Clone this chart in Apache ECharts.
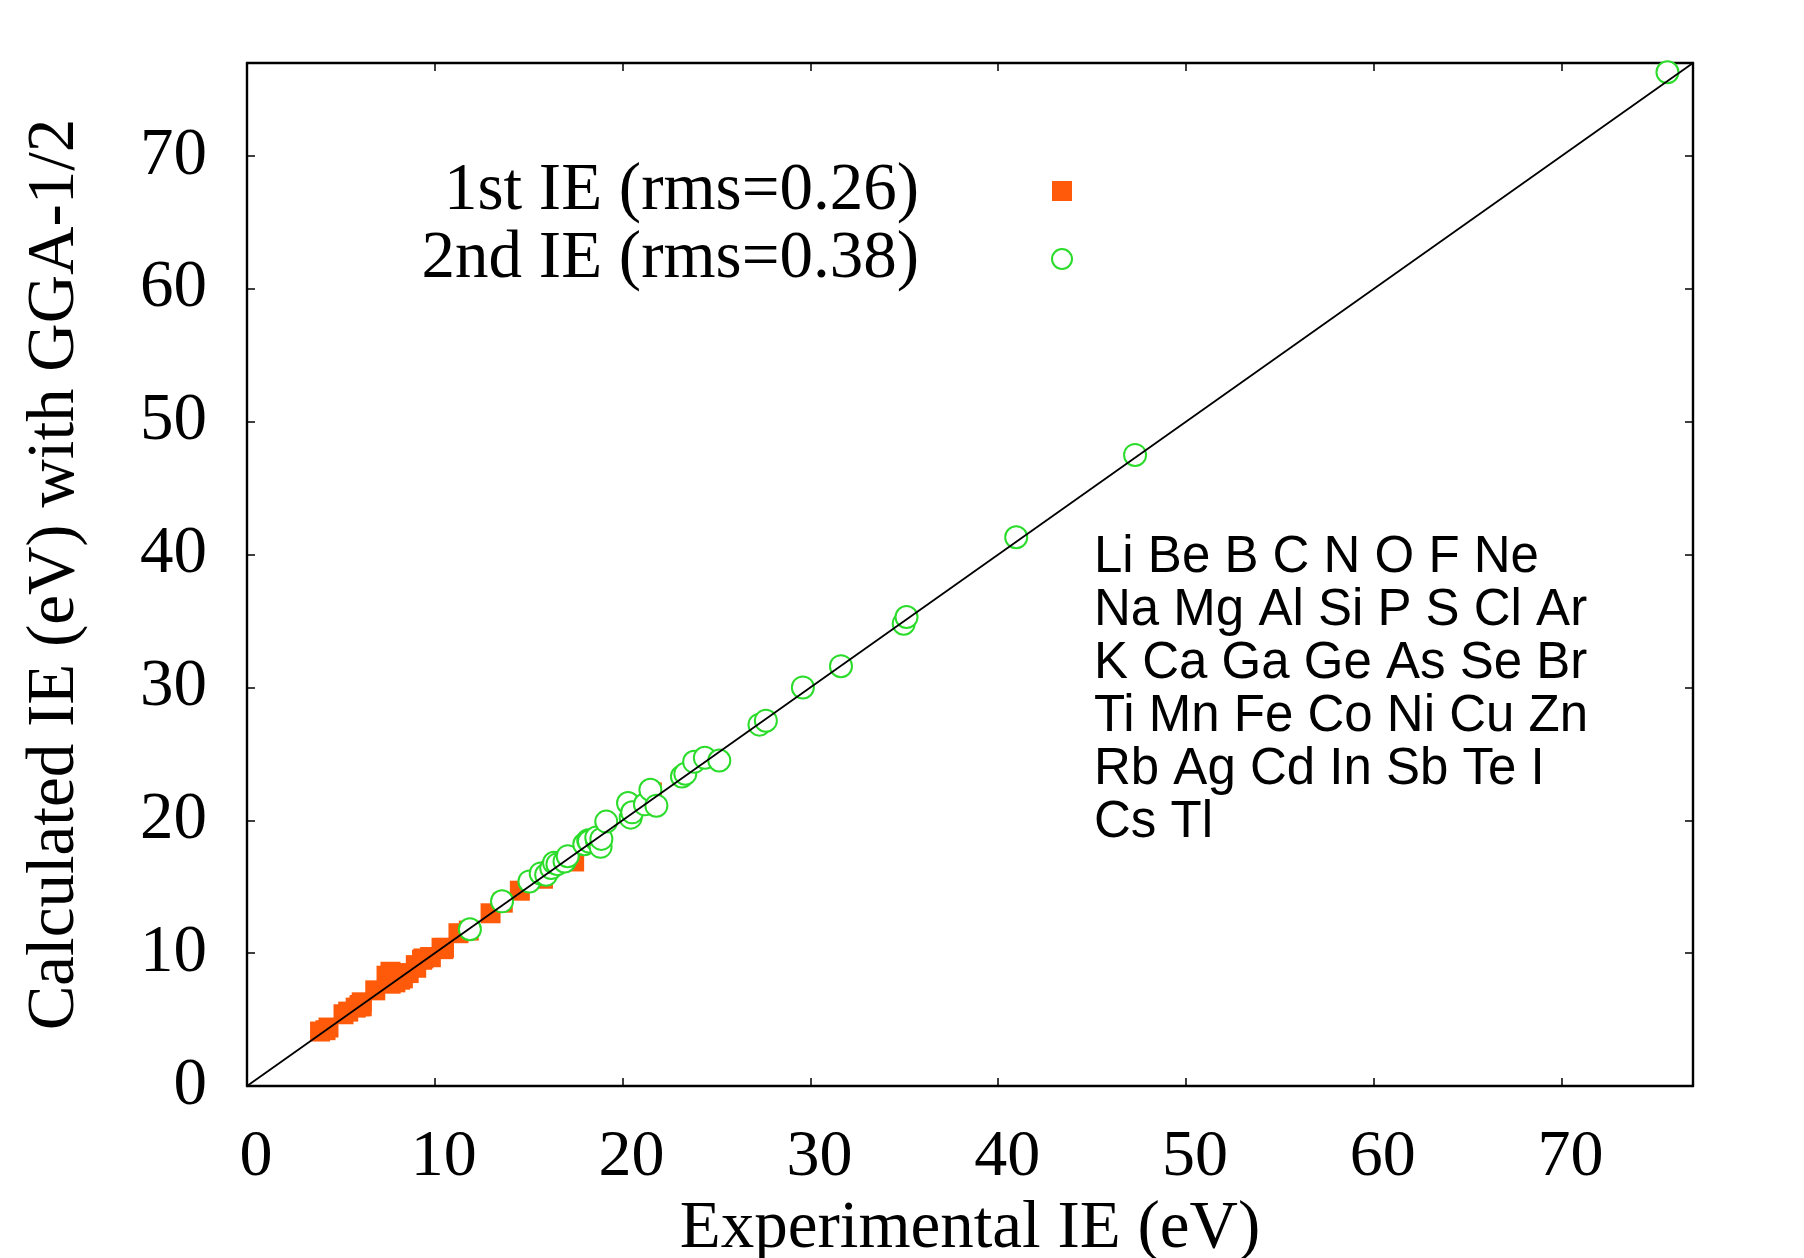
<!DOCTYPE html>
<html><head><meta charset="utf-8">
<script src="https://cdn.jsdelivr.net/npm/echarts@6/dist/echarts.min.js"></script>
<style>html,body{margin:0;padding:0;background:#fff}#c{width:1804px;height:1258px}</style>
</head><body><div id="c"></div>
<script>
// 1st ionization energies: experimental (x) vs calculated GGA-1/2 (y), eV
const elements1 = ['Cs','Rb','K','Na','Li','In','Al','Ga','Ca','Tl','Ti','Mn','Ag','Ni','Mg','Cu','Co','Fe','Ge','Si','B','Sb','Cd','Te','Be','Zn','Se','As','S','I','P','C','Br','Cl','O','N','Ar','F','Ne'];
const exp1  = [3.89,4.18,4.34,5.14,5.39,5.79,5.99,6.00,6.11,6.11,6.83,7.43,7.58,7.64,7.65,7.73,7.88,7.90,7.90,8.15,8.30,8.61,8.99,9.01,9.32,9.39,9.75,9.79,10.36,10.45,10.49,11.26,11.81,12.97,13.62,14.53,15.76,17.42,21.56];
const calc1 = [4.10,4.20,4.40,5.40,5.60,5.90,6.00,6.10,6.30,6.00,7.20,8.30,8.20,8.60,7.70,8.40,8.30,8.40,7.80,8.00,8.10,8.50,9.10,8.90,9.50,9.60,9.70,9.70,10.40,10.30,10.40,11.50,11.70,13.00,13.80,14.70,15.60,16.90,22.10];

// 2nd ionization energies
const elements2 = ['Ca','Ti','Mg','Mn','Ge','Fe','Si','Sb','Cd','Co','Zn','Ni','Be','As','Te','Al','In','I','Cu','Tl','Ga','Se','Ag','Br','Cs','S','Cl','C','B','Rb','Ar','N','K','F','O','Ne','Na','Li'];
const exp2  = [11.87,13.58,15.04,15.64,15.93,16.20,16.35,16.53,16.91,17.08,17.96,18.17,18.21,18.63,18.60,18.83,18.87,19.13,20.29,20.43,20.51,21.19,21.48,21.80,23.16,23.34,23.81,24.38,25.15,27.29,27.63,29.60,31.63,34.97,35.12,40.96,47.29,75.64];
const calc2 = [11.80,13.90,15.40,16.00,15.90,16.40,16.80,16.70,16.90,17.30,18.20,18.50,18.40,18.50,18.70,18.00,18.60,19.90,21.30,20.20,20.60,21.20,22.30,21.10,23.30,23.50,24.40,24.70,24.50,27.20,27.50,30.00,31.60,34.80,35.30,41.30,47.50,76.30];

// reference line y = x
const diagX = [0, 77];
const diagY = [0, 77];

// axes
const axisMin = 0, axisMax = 77, axisStep = 10;
const xTitle = 'Experimental IE (eV)';
const yTitle = 'Calculated IE (eV) with GGA-1/2';
const name1 = '1st IE (rms=0.26)';
const name2 = '2nd IE (rms=0.38)';
const elementLines = ['Li Be B C N O F Ne','Na Mg Al Si P S Cl Ar','K Ca Ga Ge As Se Br','Ti Mn Fe Co Ni Cu Zn','Rb Ag Cd In Sb Te I','Cs Tl'];

const serif = '"Liberation Serif", "Times New Roman", serif';
const sans = '"Liberation Sans", Arial, sans-serif';

const pts1 = exp1.map((x, i) => [x, calc1[i], elements1[i]]);
const pts2 = exp2.map((x, i) => [x, calc2[i], elements2[i]]);
const diag = diagX.map((x, i) => [x, diagY[i]]);

function baseAxis() {
  return {
    type: 'value', min: axisMin, max: axisMax, interval: axisStep,
    splitLine: { show: false },
    axisLine: { show: true, onZero: false, lineStyle: { color: '#000', width: 2.4 } },
    axisTick: { show: true, inside: true, length: 8, lineStyle: { color: '#000', width: 1.5 } }
  };
}
const fmt = v => (v % 10 === 0 ? String(v) : '');

const chart = echarts.init(document.getElementById('c'), null, { renderer: 'canvas' });
chart.setOption({
  backgroundColor: '#fff',
  animation: false,
  grid: { left: 247, right: 111, top: 63, bottom: 172, containLabel: false, outerBoundsMode: 'none' },
  xAxis: [
    Object.assign(baseAxis(), {
      position: 'bottom',
      name: xTitle, nameLocation: 'middle', nameGap: 95,
      nameTextStyle: { fontFamily: serif, fontSize: 67, color: '#000' },
      axisLabel: { show: true, formatter: fmt, showMaxLabel: false, margin: 39, padding: [0, 0, 0, 18], fontFamily: serif, fontSize: 66, color: '#000' }
    }),
    Object.assign(baseAxis(), { position: 'top', axisLabel: { show: false } })
  ],
  yAxis: [
    Object.assign(baseAxis(), {
      position: 'left',
      name: yTitle, nameLocation: 'middle', nameGap: 158,
      nameTextStyle: { fontFamily: serif, fontSize: 67, color: '#000' },
      axisLabel: { show: true, formatter: fmt, showMaxLabel: false, margin: 40, fontFamily: serif, fontSize: 67, color: '#000' }
    }),
    Object.assign(baseAxis(), { position: 'right', axisLabel: { show: false } })
  ],
  legend: {
    data: [name1, name2],
    orient: 'vertical',
    align: 'right',
    right: 726,
    top: 152,
    itemGap: 0,
    itemWidth: 20,
    itemHeight: 20,
    textStyle: { fontFamily: serif, fontSize: 67, lineHeight: 68, color: '#000', padding: [0, 128, 0, 0] }
  },
  series: [
    {
      name: name1, type: 'scatter', symbol: 'rect', symbolSize: 20,
      itemStyle: { color: '#ff5a0a', opacity: 1 },
      data: pts1, z: 2
    },
    {
      name: name2, type: 'scatter', symbol: 'emptyCircle', symbolSize: 22,
      itemStyle: { color: '#2bdc2b', borderColor: '#2bdc2b', borderWidth: 2, opacity: 1 },
      data: pts2, z: 3
    },
    {
      name: 'y = x', type: 'line', data: diag, symbol: 'none', silent: true,
      lineStyle: { color: '#000', width: 1.8 }, z: 4
    }
  ],
  graphic: [
    {
      type: 'text', left: 1094, top: 531, z: 10,
      style: {
        text: elementLines.join('\n'),
        font: '51px ' + sans,
        lineHeight: 53,
        fill: '#000'
      }
    }
  ]
});
</script>
</body></html>
